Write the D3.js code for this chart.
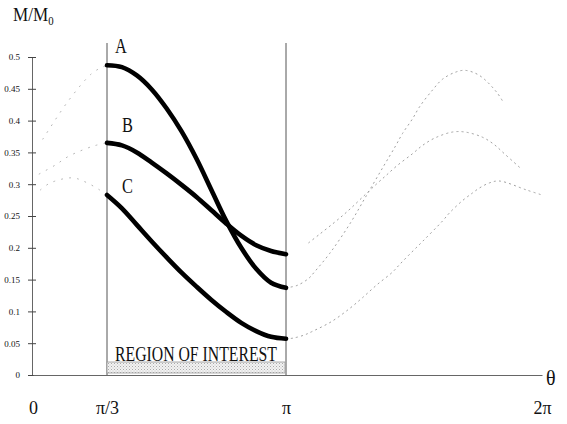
<!DOCTYPE html>
<html>
<head>
<meta charset="utf-8">
<script src="https://cdn.jsdelivr.net/npm/d3@7/dist/d3.min.js"></script>
<style>
  html, body { margin: 0; padding: 0; background: #fff; }
  svg { display: block; }
  text { font-family: "Liberation Serif", "DejaVu Serif", serif; fill: #111; }
</style>
</head>
<body>
<svg id="chart" width="567" height="424"></svg>
<script>
// ---- data (theta in degrees, value M/M0) ----
const thetaMain = [60, 70, 80, 90, 100, 110, 120, 130, 140, 150, 160, 170, 180];
const valuesA = [0.487, 0.484, 0.471, 0.449, 0.419, 0.383, 0.340, 0.291, 0.242, 0.200, 0.167, 0.145, 0.137];
const valuesB = [0.365, 0.361, 0.350, 0.334, 0.317, 0.299, 0.280, 0.259, 0.238, 0.219, 0.204, 0.195, 0.190];
const valuesC = [0.283, 0.262, 0.236, 0.210, 0.185, 0.161, 0.139, 0.118, 0.099, 0.082, 0.069, 0.060, 0.057];

// faint dotted continuations outside the region of interest
const thetaLeftA = [8, 29, 47, 54, 60];
const valuesLeftA = [0.371, 0.432, 0.473, 0.482, 0.487];
const thetaLeftB = [5, 18, 29, 49, 60];
const valuesLeftB = [0.316, 0.330, 0.344, 0.360, 0.365];
const thetaLeftC = [6, 14, 32, 43, 54, 60];
const valuesLeftC = [0.291, 0.302, 0.310, 0.303, 0.291, 0.283];

const thetaRightA = [180, 188, 196, 200, 211, 225, 236, 248, 257, 262, 269, 274, 283, 290, 299, 306, 316, 328, 333];
const valuesRightA = [0.137, 0.141, 0.152, 0.162, 0.192, 0.238, 0.280, 0.326, 0.360, 0.380, 0.403, 0.422, 0.448, 0.465, 0.476, 0.479, 0.471, 0.445, 0.428];
const thetaRightB = [196, 204, 213, 220, 226, 234, 244, 250, 258, 269, 276, 285, 297, 306, 318, 326, 334, 345];
const valuesRightB = [0.208, 0.222, 0.238, 0.251, 0.263, 0.280, 0.301, 0.313, 0.329, 0.348, 0.361, 0.373, 0.382, 0.382, 0.374, 0.363, 0.347, 0.325];
const thetaRightC = [180, 185, 193, 198, 212, 225, 234, 244, 255, 260, 267, 276, 290, 295, 304, 311, 316, 323, 330, 349, 360];
const valuesRightC = [0.057, 0.058, 0.063, 0.068, 0.084, 0.105, 0.122, 0.142, 0.162, 0.174, 0.190, 0.210, 0.242, 0.255, 0.274, 0.286, 0.294, 0.302, 0.305, 0.291, 0.283];

const yTicks = [0, 0.05, 0.1, 0.15, 0.2, 0.25, 0.3, 0.35, 0.4, 0.45, 0.5];
const yTickLabels = ["0", "0.05", "0.1", "0.15", "0.2", "0.25", "0.3", "0.35", "0.4", "0.45", "0.5"];
const xTicks = [0, 60, 180, 360];
const xTickLabels = ["0", "π/3", "π", "2π"];
const seriesNames = ["A", "B", "C"];
const regionLabel = "REGION OF INTEREST";

// ---- scales ----
const svg = d3.select("#chart");
const x = d3.scaleLinear().domain([0, 60, 180, 360]).range([33, 107, 286, 542]);
const y = d3.scaleLinear().domain([0, 0.5]).range([375, 57]);

// stipple pattern for region box
const defs = svg.append("defs");
const pat = defs.append("pattern").attr("id", "stip").attr("width", 3).attr("height", 3)
  .attr("patternUnits", "userSpaceOnUse");
pat.append("rect").attr("width", 3).attr("height", 3).attr("fill", "#f2f2f2");
pat.append("rect").attr("x", 0).attr("y", 0).attr("width", 1).attr("height", 1).attr("fill", "#aaa");
pat.append("rect").attr("x", 1.5).attr("y", 1.5).attr("width", 1).attr("height", 1).attr("fill", "#c4c4c4");

// ---- axes ----
const yAxis = d3.axisLeft(y).tickValues(yTicks).tickSize(0).tickPadding(12)
  .tickFormat((d, i) => yTickLabels[i]);
const gy = svg.append("g").attr("transform", `translate(32,0)`).call(yAxis);
gy.select(".domain").attr("stroke", "#666").attr("stroke-width", 1);
gy.selectAll(".tick").append("line").attr("x1", -4).attr("x2", 4).attr("stroke", "#444").attr("stroke-width", 1);
gy.selectAll(".tick text").attr("font-size", 9).attr("font-family", "Liberation Serif").attr("fill", "#222");

const xAxis = d3.axisBottom(x).tickValues(xTicks).tickSize(0).tickPadding(26)
  .tickFormat((d, i) => xTickLabels[i]);
const gx = svg.append("g").attr("transform", `translate(0,375)`).call(xAxis);
gx.select(".domain").attr("stroke", "#666").attr("stroke-width", 1);
gx.selectAll(".tick text").attr("font-size", 18).attr("font-family", "Liberation Serif").attr("fill", "#111");

// region boundaries
[60, 180].forEach(t => {
  svg.append("line").attr("x1", x(t)).attr("x2", x(t)).attr("y1", 43).attr("y2", 375)
    .attr("stroke", "#555").attr("stroke-width", 1);
});

// region of interest box
svg.append("rect").attr("x", x(60)).attr("y", 362).attr("width", x(180) - x(60) - 1).attr("height", 11)
  .attr("fill", "url(#stip)").attr("stroke", "#999").attr("stroke-width", 0.8);
svg.append("text").attr("x", 115).attr("y", 361).attr("font-size", 20)
  .attr("textLength", 162).attr("lengthAdjust", "spacingAndGlyphs").text(regionLabel);

// ---- curves ----
const line = d3.line().x(d => x(d[0])).y(d => y(d[1])).curve(d3.curveCatmullRom.alpha(0.5));
const zip = (a, b) => a.map((t, i) => [t, b[i]]);

const dottedLeft = [
  zip(thetaLeftA, valuesLeftA), zip(thetaLeftB, valuesLeftB), zip(thetaLeftC, valuesLeftC)
];
const dottedRight = [
  zip(thetaRightA, valuesRightA), zip(thetaRightB, valuesRightB), zip(thetaRightC, valuesRightC)
];
svg.append("g").selectAll("path").data(dottedLeft).join("path")
  .attr("d", line).attr("fill", "none").attr("stroke", "#b5b5b5")
  .attr("stroke-width", 1).attr("stroke-dasharray", "1 7").attr("stroke-linecap", "round");
svg.append("g").selectAll("path").data(dottedRight).join("path")
  .attr("d", line).attr("fill", "none").attr("stroke", "#a0a0a0")
  .attr("stroke-width", 1).attr("stroke-dasharray", "1.2 4").attr("stroke-linecap", "round");

const mains = [valuesA, valuesB, valuesC].map(v => zip(thetaMain, v));
svg.append("g").selectAll("path").data(mains).join("path")
  .attr("d", line).attr("fill", "none").attr("stroke", "#000")
  .attr("stroke-width", 4.6).attr("stroke-linecap", "round").attr("stroke-linejoin", "round");

// series labels
const labelPos = [[115, 53], [122, 132], [122, 193]];
seriesNames.forEach((n, i) => {
  svg.append("text").attr("transform", `translate(${labelPos[i][0]},${labelPos[i][1]}) scale(0.78,1)`)
    .attr("font-size", 21).text(n);
});

// axis titles
const t = svg.append("text").attr("transform", "translate(13,21) scale(0.9,1)").attr("font-size", 19);
t.append("tspan").text("M/M");
t.append("tspan").attr("font-size", 12).attr("dy", 4).text("0");
svg.append("text").attr("x", 546).attr("y", 385).attr("font-size", 20).text("θ");
</script>
</body>
</html>
